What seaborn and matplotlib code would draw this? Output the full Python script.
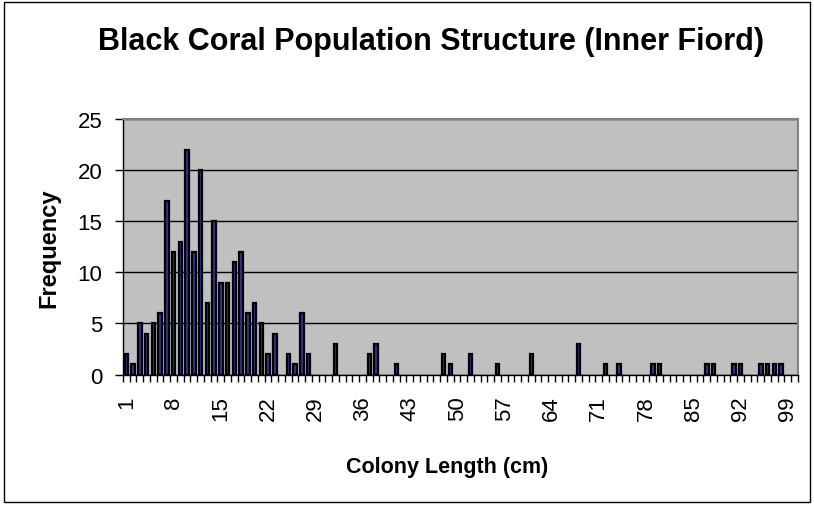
import numpy as np
import pandas as pd
import seaborn as sns
import matplotlib.pyplot as plt
from matplotlib.patches import Rectangle

# colony length classes (cm) and counts
lengths = [str(i) for i in range(1, 101)]
counts = [2, 1, 5, 4, 5, 6, 17, 12, 13, 22,
          12, 20, 7, 15, 9, 9, 11, 12, 6, 7,
          5, 2, 4, 0, 2, 1, 6, 2, 0, 0,
          0, 3, 0, 0, 0, 0, 2, 3, 0, 0,
          1, 0, 0, 0, 0, 0, 0, 2, 1, 0,
          0, 2, 0, 0, 0, 1, 0, 0, 0, 0,
          2, 0, 0, 0, 0, 0, 0, 3, 0, 0,
          0, 1, 0, 1, 0, 0, 0, 0, 1, 1,
          0, 0, 0, 0, 0, 0, 1, 1, 0, 0,
          1, 1, 0, 0, 1, 1, 1, 1, 0, 0]
tick_labels = lengths[::7]

sns.set_theme(style='white')
plt.rcParams['font.family'] = ['Liberation Sans', 'DejaVu Sans']
plt.rcParams['text.color'] = 'black'
plt.rcParams['xtick.color'] = 'black'
plt.rcParams['ytick.color'] = 'black'

df = pd.DataFrame({'length': lengths, 'count': counts})
df_nz = df[df['count'] > 0]

fig = plt.figure(figsize=(8.14, 5.06), dpi=100)
ax = fig.add_axes([0.1511, 0.2579, 0.8292, 0.5049])
ax.set_facecolor('#c0c0c0')

sns.barplot(data=df_nz, x='length', y='count', order=lengths,
            color='#333399', saturation=1, width=0.52,
            edgecolor='black', linewidth=1.6, ax=ax, zorder=3)

ax.set_xlim(-0.5, 99.5)
ax.set_ylim(0, 25)
ax.set_yticks([0, 5, 10, 15, 20, 25])
ax.yaxis.grid(True, color='black', linewidth=1, zorder=1)
ax.set_axisbelow(True)

ax.set_xticks(range(0, 100, 7))
ax.set_xticklabels(tick_labels, rotation=90, fontsize=16)
ax.set_xticks(np.arange(-0.5, 100, 1), minor=True)
ax.tick_params(axis='x', which='major', length=0, pad=15)
ax.tick_params(axis='x', which='minor', length=5, width=1, color='black', bottom=True)
ax.tick_params(axis='y', length=6, width=1, color='black', left=True, labelsize=16, pad=9)

for s in ['top', 'right']:
    ax.spines[s].set_color('#808080')
    ax.spines[s].set_linewidth(1.5)
for s in ['left', 'bottom']:
    ax.spines[s].set_color('black')
    ax.spines[s].set_linewidth(1)

ax.set_xlabel('')
ax.set_ylabel('')
fig.text(0.549, 0.077, 'Colony Length (cm)', ha='center', va='center',
         fontsize=15.5, fontweight='bold')
fig.text(0.060, 0.510, 'Frequency', ha='center', va='center', rotation=90,
         fontsize=17, fontweight='bold')
fig.text(0.5295, 0.917, 'Black Coral Population Structure (Inner Fiord)',
         ha='center', va='center', fontsize=22, fontweight='bold')

fig.patches.append(Rectangle((0.005, 0.005), 0.99, 0.99, transform=fig.transFigure,
                             fill=False, edgecolor='black', linewidth=1))

fig.savefig('out.png', dpi=100)
